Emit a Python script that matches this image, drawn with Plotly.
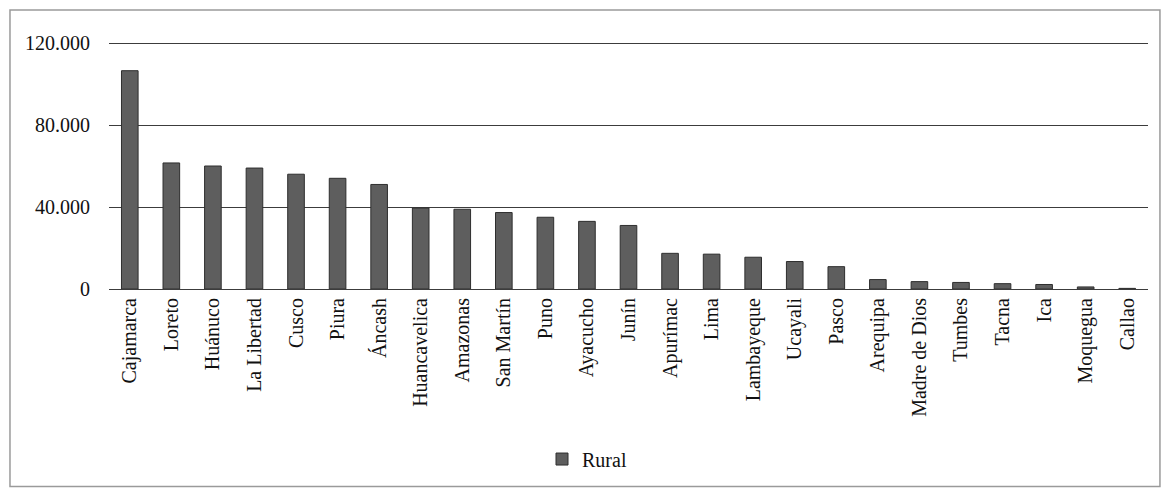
import plotly.graph_objects as go

# Rural population by department (units)
departamentos = [
    "Cajamarca", "Loreto", "Huánuco", "La Libertad", "Cusco", "Piura", "Áncash",
    "Huancavelica", "Amazonas", "San Martín", "Puno", "Ayacucho", "Junín",
    "Apurímac", "Lima", "Lambayeque", "Ucayali", "Pasco", "Arequipa",
    "Madre de Dios", "Tumbes", "Tacna", "Ica", "Moquegua", "Callao",
]
rural = [
    106500, 61500, 60000, 59000, 56000, 54000, 51000,
    39500, 38900, 37300, 35000, 33000, 31000,
    17400, 17000, 15500, 13400, 10900, 4600,
    3600, 3200, 2600, 2200, 1000, 300,
]
y_ticks = [0, 40000, 80000, 120000]

SERIF = "Liberation Serif"
TXT = dict(family=SERIF, size=20, color="#111")

fig = go.Figure(
    go.Bar(
        x=departamentos,
        y=rural,
        name="Rural",
        marker=dict(color="#5e5e5e", line=dict(color="#2e2e2e", width=1)),
    )
)

fig.update_layout(
    width=1167,
    height=492,
    margin=dict(l=109, r=19, t=42, b=203),
    paper_bgcolor="white",
    plot_bgcolor="white",
    separators=",.",
    bargap=0.6,
    font=TXT,
    showlegend=True,
    legend=dict(
        orientation="h",
        xref="container", yref="container",
        x=0.503, xanchor="center",
        y=0.067, yanchor="middle",
        font=TXT,
        itemwidth=30,
    ),
    shapes=[
        dict(
            type="rect", xref="paper", yref="paper",
            x0=-0.0953, x1=1.0115, y0=-0.8, y1=1.13,
            line=dict(color="#9a9a9a", width=1.5),
            fillcolor="rgba(0,0,0,0)", layer="below",
        )
    ],
)

fig.update_yaxes(
    range=[0, 120500],
    tickvals=y_ticks,
    tickformat=",.0f",
    showgrid=True,
    gridcolor="#3c3c3c",
    gridwidth=1,
    zeroline=True,
    zerolinecolor="#3c3c3c",
    zerolinewidth=1,
    showline=False,
    ticks="",
    ticklabelstandoff=18,
    tickfont=TXT,
)

fig.update_xaxes(
    tickangle=-90,
    showgrid=False,
    showline=False,
    ticks="",
    ticklabelstandoff=4,
    tickfont=TXT,
)

fig.write_html("out.html")
